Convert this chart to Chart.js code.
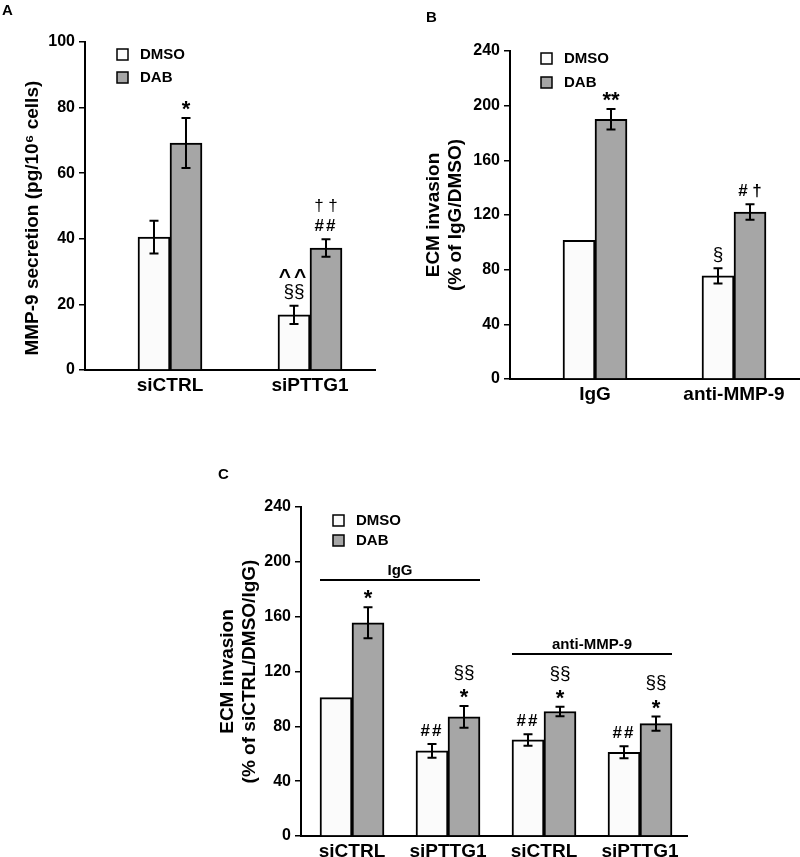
<!DOCTYPE html>
<html>
<head>
<meta charset="utf-8">
<script src="https://cdn.jsdelivr.net/npm/chart.js@4/dist/chart.umd.min.js"></script>
<style>
  body { margin: 0; background: #fff; width: 800px; height: 857px; position: relative; overflow: hidden; }
  canvas { position: absolute; }
</style>
</head>
<body>
<canvas id="chartA" width="400" height="440" style="left:0;top:0"></canvas>
<canvas id="chartB" width="400" height="440" style="left:400px;top:0"></canvas>
<canvas id="chartC" width="500" height="417" style="left:200px;top:440px"></canvas>
<script>
// panel A - MMP-9 secretion
var aCategories = ['siCTRL', 'siPTTG1'];
var aDmso = [40.5, 16.8];
var aDab = [69.2, 37.2];
var aDmsoErr = [5.0, 2.8];
var aDabErr = [7.6, 2.7];
var aDmsoMarks = [[], ['§§', '^^']];
var aDabMarks = [['*'], ['##', '† †']];
var aTicks = [0, 20, 40, 60, 80, 100];

// panel B - ECM invasion, IgG vs anti-MMP-9
var bCategories = ['IgG', 'anti-MMP-9'];
var bDmso = [101.5, 75.4];
var bDab = [190.0, 122.2];
var bDmsoErr = [0, 5.6];
var bDabErr = [7.5, 5.7];
var bDmsoMarks = [[], ['§']];
var bDabMarks = [['**'], ['# †']];
var bTicks = [0, 40, 80, 120, 160, 200, 240];

// panel C - ECM invasion, siRNA x antibody
var cCategories = ['siCTRL', 'siPTTG1', 'siCTRL', 'siPTTG1'];
var cDmso = [101, 62.1, 70.1, 61.1];
var cDab = [155.5, 86.9, 90.8, 82.0];
var cDmsoErr = [0, 5.0, 4.2, 4.4];
var cDabErr = [11.3, 8.0, 3.4, 5.2];
var cDmsoMarks = [[], ['##'], ['##'], ['##']];
var cDabMarks = [['*'], ['*', '§§'], ['*', '§§'], ['*', '§§']];
var cTicks = [0, 40, 80, 120, 160, 200, 240];

var FONT = '"Liberation Sans", Arial, sans-serif';
var WHITE = '#fbfbfb', GREY = '#a6a6a6';
Chart.defaults.font.family = FONT;
Chart.defaults.color = '#000';

var decor = {
	id: 'decor',
	afterDatasetsDraw: function(chart, args, opts) {
		var ctx = chart.ctx, ys = chart.scales.y, xs = chart.scales.x, area = chart.chartArea;
		ctx.save();
		ctx.fillStyle = '#000';
		ctx.strokeStyle = '#000';

		// error bars + significance marks
		chart.data.datasets.forEach(function(ds, di) {
			chart.getDatasetMeta(di).data.forEach(function(bar, i) {
				var v = ds.data[i].y, e = ds.errors[i];
				var top = ys.getPixelForValue(v + e);
				if (e > 0) {
					var bot = ys.getPixelForValue(v - e);
					ctx.lineWidth = 2;
					ctx.beginPath();
					ctx.moveTo(bar.x, top); ctx.lineTo(bar.x, bot);
					ctx.moveTo(bar.x - 4.5, top); ctx.lineTo(bar.x + 4.5, top);
					ctx.moveTo(bar.x - 4.5, bot); ctx.lineTo(bar.x + 4.5, bot);
					ctx.stroke();
				}
				ds.marks[i].forEach(function(m, k) {
					var star = m.indexOf('*') >= 0, caret = m.indexOf('^') >= 0;
					var sect = m.indexOf('§') >= 0;
					var light = /[§†]/.test(m) && m.indexOf('#') < 0;
					var size = star ? 22 : (caret ? 21 : (sect ? 19 : 17));
					var yc = top - 14 - k * 20;
					var lift = star ? 0.55 : (caret ? 0.52 : (sect ? 0.3 : 0.36));
					ctx.font = (light ? '' : 'bold ') + size + 'px ' + FONT;
					ctx.letterSpacing = caret ? '3px' : ((m.indexOf('#') >= 0 && m.indexOf(' ') < 0) ? '2px' : '0px');
					ctx.textAlign = 'center';
					ctx.textBaseline = 'alphabetic';
					ctx.fillText(m, bar.x, yc + lift * size);
				});
			});
		});
		ctx.letterSpacing = '0px';

		// legend inside plot area
		var lg = opts.legend;
		chart.data.datasets.forEach(function(ds, di) {
			var bx = area.left + lg.x, by = area.top + lg.y + di * lg.gap;
			ctx.fillStyle = ds.backgroundColor;
			ctx.fillRect(bx, by, 11, 11);
			ctx.lineWidth = 1.5;
			ctx.strokeRect(bx, by, 11, 11);
			ctx.fillStyle = '#000';
			ctx.font = 'bold 15px ' + FONT;
			ctx.textAlign = 'left';
			ctx.textBaseline = 'middle';
			ctx.fillText(ds.label, bx + 23, by + 6);
		});

		// group brackets
		(opts.groups || []).forEach(function(g) {
			var ly = ys.getPixelForValue(g.level);
			var x0 = xs.getPixelForValue(g.from) - 32, x1 = xs.getPixelForValue(g.to) + 32;
			ctx.lineWidth = 2;
			ctx.beginPath(); ctx.moveTo(x0, ly); ctx.lineTo(x1, ly); ctx.stroke();
			ctx.font = 'bold 15px ' + FONT;
			ctx.textAlign = 'center';
			ctx.textBaseline = 'alphabetic';
			ctx.fillText(g.label, (x0 + x1) / 2, ly - 5);
		});

		// panel letter
		ctx.font = 'bold 15px ' + FONT;
		ctx.textAlign = 'left';
		ctx.textBaseline = 'alphabetic';
		ctx.fillText(opts.letter.text, opts.letter.x, opts.letter.y);
		ctx.restore();
	}
};

var yAxis = function(ticks, width, title, pad) {
	return {
		min: ticks[0], max: ticks[ticks.length - 1],
		afterBuildTicks: function(s) { s.ticks = ticks.map(function(t) { return {value: t}; }); },
		ticks: {font: {size: 16, weight: 'bold'}, padding: 4, color: '#000'},
		grid: {display: true, drawOnChartArea: false, drawTicks: true, tickLength: 6, color: '#000', lineWidth: 1.5},
		border: {display: true, color: '#000', width: 2},
		title: {display: true, text: title, color: '#000', font: {size: 19, weight: 'bold'}, padding: {top: pad, bottom: 0}},
		afterFit: function(s) { s.width = width; }
	};
};

var xAxis = function(labels, min, max, height) {
	return {
		type: 'linear', min: min, max: max, offset: false, bounds: 'data',
		afterBuildTicks: function(s) { s.ticks = labels.map(function(l, i) { return {value: i + 1}; }); },
		ticks: {font: {size: 19, weight: 'bold'}, padding: 4, color: '#000', maxRotation: 0, autoSkip: false,
			callback: function(v) { return labels[v - 1] || ''; }},
		grid: {display: false, drawTicks: false, offset: false},
		border: {display: true, color: '#000', width: 2},
		afterFit: function(s) { s.height = height; }
	};
};

var makeSet = function(label, vals, errs, marks, color) {
	return {
		label: label,
		data: vals.map(function(v, i) { return {x: i + 1, y: v}; }),
		errors: errs, marks: marks,
		backgroundColor: color, borderColor: '#000', borderWidth: 2,
		barThickness: 32
	};
};

var makeChart = function(id, cfg) {
	return new Chart(document.getElementById(id), {
		type: 'bar',
		data: {datasets: [
			makeSet('DMSO', cfg.dmso, cfg.dmsoErr, cfg.dmsoMarks, WHITE),
			makeSet('DAB', cfg.dab, cfg.dabErr, cfg.dabMarks, GREY)
		]},
		options: {
			responsive: false, animation: false,
			layout: {padding: cfg.padding},
			scales: {x: cfg.x, y: cfg.y},
			plugins: {legend: {display: false}, tooltip: {enabled: false}, decor: cfg.decor}
		},
		plugins: [decor]
	});
};

makeChart('chartA', {
	dmso: aDmso, dab: aDab, dmsoErr: aDmsoErr, dabErr: aDabErr, dmsoMarks: aDmsoMarks, dabMarks: aDabMarks,
	padding: {left: 0, top: 42, right: 25, bottom: 0},
	x: xAxis(aCategories, 0.3929, 2.4643, 70),
	y: yAxis(aTicks, 85, 'MMP-9 secretion (pg/10\u2076 cells)\u2003 ', 21),
	decor: {legend: {x: 32, y: 7, gap: 23}, letter: {text: 'A', x: 2, y: 15}}
});

makeChart('chartB', {
	dmso: bDmso, dab: bDab, dmsoErr: bDmsoErr, dabErr: bDabErr, dmsoMarks: bDmsoMarks, dabMarks: bDabMarks,
	padding: {left: 0, top: 51, right: 0, bottom: 0},
	x: xAxis(bCategories, 0.3885, 2.4748, 61),
	y: yAxis(bTicks, 110, ['ECM invasion', '(% of IgG/DMSO)'], 22),
	decor: {legend: {x: 31, y: 2, gap: 24}, letter: {text: 'B', x: 26, y: 22}}
});

makeChart('chartC', {
	dmso: cDmso, dab: cDab, dmsoErr: cDmsoErr, dabErr: cDabErr, dmsoMarks: cDmsoMarks, dabMarks: cDabMarks,
	padding: {left: 0, top: 67, right: 13, bottom: 0},
	x: xAxis(cCategories, 0.46875, 4.48958, 21),
	y: yAxis(cTicks, 101, ['ECM invasion', '(% of siCTRL/DMSO/IgG)'], 16),
	decor: {
		legend: {x: 32, y: 8, gap: 20}, letter: {text: 'C', x: 18, y: 39},
		groups: [{from: 1, to: 2, level: 186.7, label: 'IgG'}, {from: 3, to: 4, level: 132.8, label: 'anti-MMP-9'}]
	}
});
</script>
</body>
</html>
